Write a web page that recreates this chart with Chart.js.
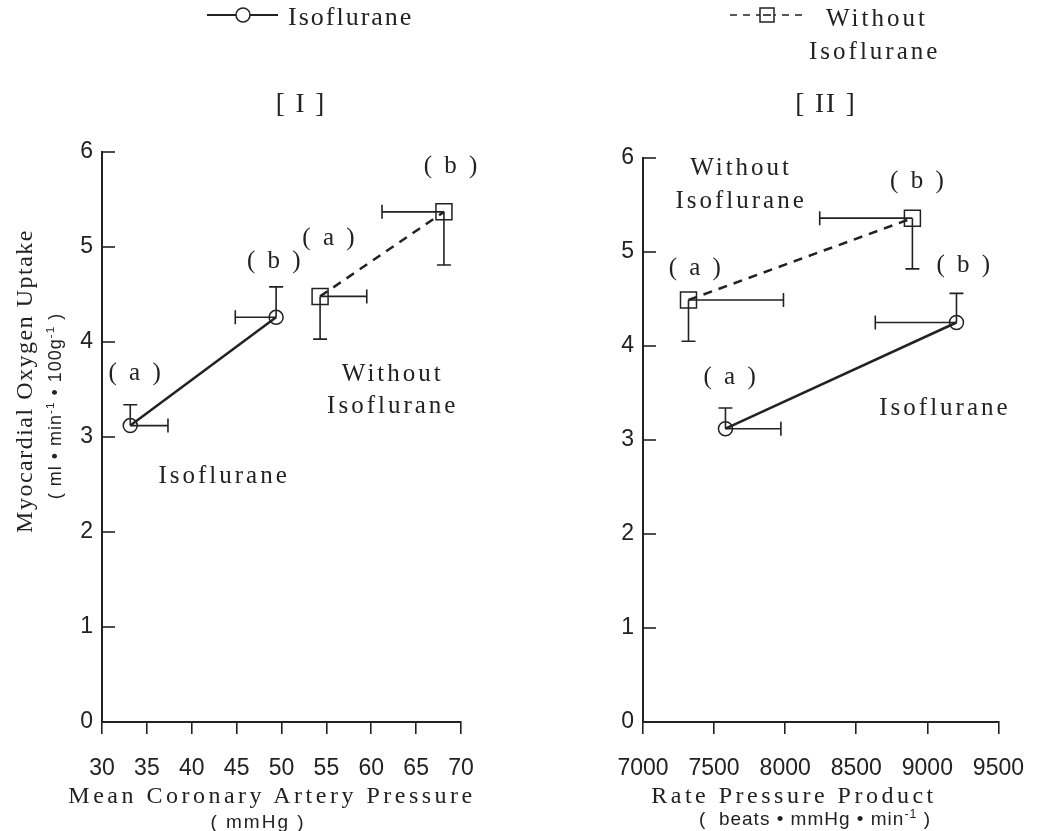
<!DOCTYPE html>
<html lang="en">
<head>
  <meta charset="UTF-8" />
  <title>Myocardial Oxygen Uptake vs Pressure</title>
  <script src="https://cdn.jsdelivr.net/npm/chart.js"></script>
  <style>
    body { margin: 0; background: #fff; width: 1045px; height: 831px; position: relative; overflow: hidden; color: #222; }
    canvas { position: absolute; top: 0; }
    #c1 { left: 0; }
    #c2 { left: 520px; }
    .t { position: absolute; white-space: nowrap; line-height: 1; }
    .serif { font-family: "Liberation Serif", "DejaVu Serif", serif; }
    .sans { font-family: "Liberation Sans", Arial, sans-serif; }
    .c { transform: translateX(-50%); }
    sup { font-size: 0.65em; vertical-align: 0.6em; }
    svg { position: absolute; }
  </style>
</head>
<body>
  <canvas id="c1" width="520" height="831"></canvas>
  <canvas id="c2" width="525" height="831"></canvas>

  <!-- legends -->
  <svg style="left:200px;top:0" width="90" height="32">
    <line x1="7" y1="15" x2="78" y2="15" stroke="#222" stroke-width="2" />
    <circle cx="43" cy="15" r="7" fill="#fff" stroke="#222" stroke-width="1.5" />
  </svg>
  <div class="t serif" style="left:288px;top:4px;font-size:26px;letter-spacing:2px">Isoflurane</div>

  <svg style="left:725px;top:0" width="90" height="32">
    <line x1="5" y1="15" x2="78" y2="15" stroke="#222" stroke-width="1.6" stroke-dasharray="7,6" />
    <rect x="35" y="8" width="14" height="14" fill="#fff" stroke="#222" stroke-width="1.5" />
    <line x1="38" y1="15" x2="46" y2="15" stroke="#222" stroke-width="1.6" />
  </svg>
  <div class="t serif" style="left:826px;top:5px;font-size:25px;letter-spacing:3px">Without</div>
  <div class="t serif" style="left:809px;top:38px;font-size:25px;letter-spacing:3px">Isoflurane</div>

  <!-- panel titles -->
  <div class="t serif c" style="left:301px;top:90px;font-size:27px;letter-spacing:2px">[ I ]</div>
  <div class="t serif c" style="left:826px;top:90px;font-size:27px;letter-spacing:2px">[ II ]</div>

  <!-- axis titles -->
  <div class="t serif c" style="left:272px;top:783px;font-size:24px;letter-spacing:3.5px">Mean Coronary Artery Pressure</div>
  <div class="t sans c" style="left:258px;top:812px;font-size:19px;letter-spacing:2px">(&nbsp;mmHg&nbsp;)</div>
  <div class="t serif c" style="left:794px;top:783px;font-size:24px;letter-spacing:3.5px">Rate Pressure Product</div>
  <div class="t sans c" style="left:815px;top:808px;font-size:19px;letter-spacing:1px">(&nbsp; beats • mmHg • min<sup>-1</sup>&nbsp;)</div>

  <div class="t serif" style="left:24px;top:381px;font-size:24px;letter-spacing:1.5px;transform:translate(-50%,-50%) rotate(-90deg)">Myocardial Oxygen Uptake</div>
  <div class="t sans" style="left:54px;top:406px;font-size:18px;letter-spacing:1px;transform:translate(-50%,-50%) rotate(-90deg)">(&nbsp;ml • min<sup>-1</sup> • 100g<sup>-1</sup>&nbsp;)</div>

  <script>
    // y axis (both panels)
    const yTicks = [0, 1, 2, 3, 4, 5, 6];

    // Panel I: mean coronary artery pressure (mmHg)
    const mcapTicks = [30, 35, 40, 45, 50, 55, 60, 65, 70];
    const mcapIso = [33.15, 49.4];
    const mvo2Iso = [3.12, 4.26];
    const mcapWithout = [54.3, 68.1];
    const mvo2Without = [4.48, 5.37];
    // one-sided error bar ends
    const mcapIsoBarEnd = [37.35, 44.85];
    const mvo2IsoBarEnd = [3.34, 4.58];
    const mcapWithoutBarEnd = [59.5, 61.2];
    const mvo2WithoutBarEnd = [4.03, 4.81];

    // Panel II: rate pressure product
    const rppTicks = [7000, 7500, 8000, 8500, 9000, 9500];
    const rppIso = [7580, 9205];
    const mvo2IsoII = [3.12, 4.25];
    const rppWithout = [7320, 8895];
    const mvo2WithoutII = [4.49, 5.36];
    const rppIsoBarEnd = [7970, 8634];
    const mvo2IsoBarEndII = [3.34, 4.56];
    const rppWithoutBarEnd = [7988, 8243];
    const mvo2WithoutBarEndII = [4.05, 4.82];

    // in-plot labels (data coordinates)
    const notesI = [
      { x: 33.8, y: 3.67, text: "( a )" },
      { x: 49.3, y: 4.85, text: "( b )" },
      { x: 55.4, y: 5.09, text: "( a )" },
      { x: 69.0, y: 5.85, text: "( b )" },
      { x: 62.4, y: 3.66, text: "Without" },
      { x: 62.4, y: 3.32, text: "Isoflurane" },
      { x: 43.6, y: 2.59, text: "Isoflurane" }
    ];
    const notesII = [
      { x: 7690, y: 5.89, text: "Without" },
      { x: 7690, y: 5.54, text: "Isoflurane" },
      { x: 8937, y: 5.75, text: "( b )" },
      { x: 7375, y: 4.83, text: "( a )" },
      { x: 9264, y: 4.86, text: "( b )" },
      { x: 7620, y: 3.67, text: "( a )" },
      { x: 9124, y: 3.34, text: "Isoflurane" }
    ];

    const ink = "#222";
    const pts = (xs, ys) => xs.map((x, i) => ({ x, y: ys[i] }));

    const decor = {
      id: "decor",
      afterDatasetsDraw(chart, args, o) {
        const { ctx, scales: { x, y } } = chart;
        ctx.save();
        ctx.strokeStyle = ink;
        ctx.lineWidth = 1.6;
        // y ticks point inward
        yTicks.forEach(v => {
          const py = y.getPixelForValue(v);
          ctx.beginPath(); ctx.moveTo(x.left, py); ctx.lineTo(x.left + 13, py); ctx.stroke();
        });
        // error bars
        o.bars.forEach(b => {
          b.xs.forEach((xv, i) => {
            const px = x.getPixelForValue(xv), py = y.getPixelForValue(b.ys[i]);
            const ex = x.getPixelForValue(b.xEnd[i]), ey = y.getPixelForValue(b.yEnd[i]);
            ctx.beginPath();
            ctx.moveTo(px, py); ctx.lineTo(ex, py);
            ctx.moveTo(ex, py - 7); ctx.lineTo(ex, py + 7);
            ctx.moveTo(px, py); ctx.lineTo(px, ey);
            ctx.moveTo(px - 7, ey); ctx.lineTo(px + 7, ey);
            ctx.stroke();
          });
        });
        // text notes
        ctx.fillStyle = ink;
        ctx.font = "25px 'Liberation Serif'";
        ctx.letterSpacing = "3px";
        ctx.textAlign = "center";
        ctx.textBaseline = "middle";
        o.notes.forEach(n => ctx.fillText(n.text, x.getPixelForValue(n.x), y.getPixelForValue(n.y)));
        ctx.restore();
      }
    };

    function makePanel(id, xTicks, sets, bars, notes, pad, yWidth) {
      new Chart(document.getElementById(id), {
        type: "scatter",
        data: {
          datasets: sets.map(s => ({
            data: s.data,
            showLine: true,
            borderColor: ink,
            borderWidth: 2.5,
            borderDash: s.dash,
            pointStyle: s.style,
            pointRadius: s.r,
            pointBorderWidth: 1.5,
            pointBorderColor: ink,
            pointBackgroundColor: "rgba(0,0,0,0)"
          }))
        },
        options: {
          responsive: false,
          animation: false,
          devicePixelRatio: 1,
          layout: { padding: pad },
          plugins: { legend: { display: false }, tooltip: { enabled: false }, decor: { bars, notes } },
          scales: {
            x: {
              type: "linear",
              min: xTicks[0], max: xTicks[xTicks.length - 1],
              afterBuildTicks: s => { s.ticks = xTicks.map(v => ({ value: v })); },
              afterFit: s => { s.height = 60; },
              ticks: {
                color: ink, font: { family: "'Liberation Sans'", size: 23 }, padding: 21,
                autoSkip: false, maxRotation: 0, callback: v => String(v)
              },
              grid: { drawOnChartArea: false, tickLength: 12, color: ink, lineWidth: 1.6 },
              border: { color: ink, width: 2 }
            },
            y: {
              min: 0, max: 6,
              afterBuildTicks: s => { s.ticks = yTicks.map(v => ({ value: v })); },
              afterFit: s => { s.width = yWidth; },
              ticks: { color: ink, font: { family: "'Liberation Sans'", size: 23 }, padding: 9 },
              grid: { display: false, drawTicks: false },
              border: { color: ink, width: 2 }
            }
          }
        },
        plugins: [decor]
      });
    }

    makePanel("c1", mcapTicks,
      [
        { data: pts(mcapIso, mvo2Iso), style: "circle", r: 7, dash: [] },
        { data: pts(mcapWithout, mvo2Without), style: "rect", r: 11.3, dash: [9, 7] }
      ],
      [
        { xs: mcapIso, ys: mvo2Iso, xEnd: mcapIsoBarEnd, yEnd: mvo2IsoBarEnd },
        { xs: mcapWithout, ys: mvo2Without, xEnd: mcapWithoutBarEnd, yEnd: mvo2WithoutBarEnd }
      ],
      notesI, { left: 0, top: 152, right: 59, bottom: 49 }, 102);

    makePanel("c2", rppTicks,
      [
        { data: pts(rppIso, mvo2IsoII), style: "circle", r: 7, dash: [] },
        { data: pts(rppWithout, mvo2WithoutII), style: "rect", r: 11.3, dash: [9, 7] }
      ],
      [
        { xs: rppIso, ys: mvo2IsoII, xEnd: rppIsoBarEnd, yEnd: mvo2IsoBarEndII },
        { xs: rppWithout, ys: mvo2WithoutII, xEnd: rppWithoutBarEnd, yEnd: mvo2WithoutBarEndII }
      ],
      notesII, { left: 0, top: 158, right: 44, bottom: 49 }, 123);
  </script>
</body>
</html>
